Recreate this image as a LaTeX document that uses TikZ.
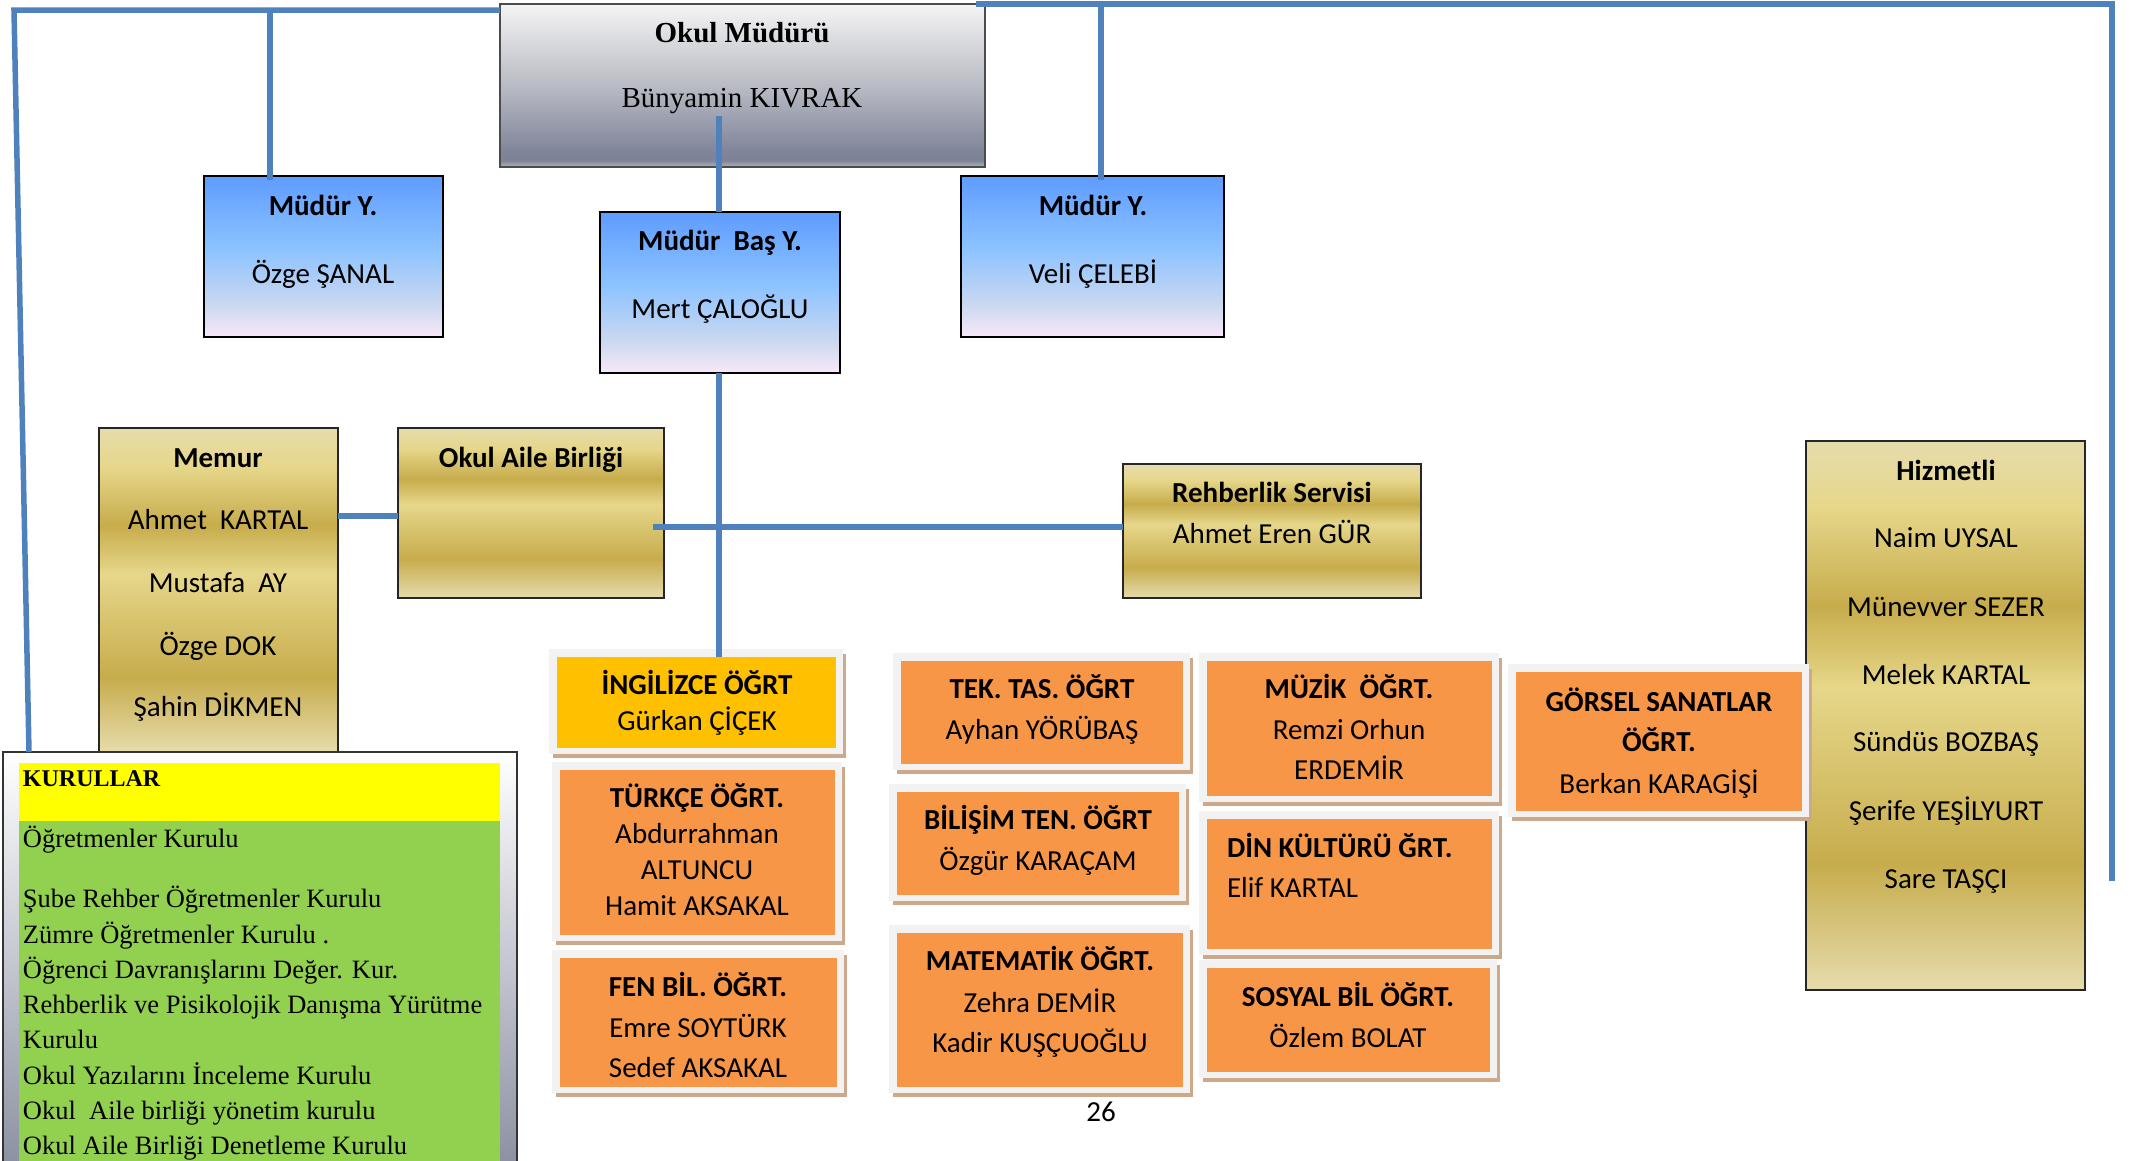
\documentclass[tikz,border=0pt]{standalone}
\usepackage{fontspec}
\setmainfont{Carlito}
\newfontfamily\tnr{Liberation Serif}
\usetikzlibrary{calc}

\definecolor{lineblue}{HTML}{4F81BD}
\definecolor{bB1}{HTML}{5E9CFF}
\definecolor{bB2}{HTML}{8DC3FF}
\definecolor{bB3}{HTML}{CBD8F0}
\definecolor{bB4}{HTML}{F8E8F8}
\definecolor{gA}{HTML}{E6DCAC}
\definecolor{gB}{HTML}{E6D78A}
\definecolor{gC}{HTML}{C7AC4C}
\definecolor{gr1}{HTML}{F4F4F4}
\definecolor{gr2}{HTML}{B9BBC4}
\definecolor{gr3}{HTML}{7E8398}
\definecolor{gr4}{HTML}{B4B6BE}
\definecolor{kw}{HTML}{FFFFFF}
\definecolor{kg}{HTML}{8A8FA0}
\definecolor{torange}{HTML}{F79646}
\definecolor{tyellow}{HTML}{FFC000}
\definecolor{cframe}{HTML}{F2F2F2}
\definecolor{ctan}{HTML}{CDA88A}
\definecolor{kyellow}{HTML}{FFFF00}
\definecolor{kgreen}{HTML}{92D050}

\pgfdeclareverticalshading{bluegrad}{100bp}{color(0bp)=(bB4); color(25bp)=(bB4); color(35bp)=(bB3); color(52bp)=(bB2); color(75bp)=(bB1); color(100bp)=(bB1)}
\pgfdeclareverticalshading{goldgrad}{100bp}{color(0bp)=(gA); color(25bp)=(gA); color(36.5bp)=(gC); color(52.5bp)=(gB); color(60bp)=(gC); color(69bp)=(gB); color(75bp)=(gA); color(100bp)=(gA)}
\pgfdeclareverticalshading{graygrad}{100bp}{color(0bp)=(gr4); color(25bp)=(gr4); color(27bp)=(gr3); color(29bp)=(gr3); color(50bp)=(gr2); color(75bp)=(gr1); color(100bp)=(gr1)}
\pgfdeclareverticalshading{kurgrad}{100bp}{color(0bp)=(kg); color(25bp)=(kg); color(75bp)=(kw); color(100bp)=(kw)}

\tikzset{
  bl/.style={draw=lineblue, line width=5.5pt},
  boxbase/.style={inner sep=0pt, outer sep=0pt, anchor=north west},
  bluebox/.style={boxbase, shade, shading=bluegrad, draw=black, line width=1.2pt},
  goldbox/.style={boxbase, shade, shading=goldgrad, draw=black!85, line width=1.2pt},
  graybox/.style={boxbase, shade, shading=graygrad, draw=black!70, line width=1.5pt},
  lbl/.style={inner sep=0pt, outer sep=0pt, anchor=base, font=\fontsize{29}{35}\selectfont},
  lblb/.style={lbl, font=\fontsize{29}{35}\selectfont\bfseries},
  lbll/.style={lbl, anchor=base west},
  lbllb/.style={lblb, anchor=base west},
  tlbl/.style={lbl, font=\tnr\fontsize{29}{35}\selectfont},
  tlblb/.style={lbl, font=\tnr\fontsize{29}{35}\selectfont\bfseries},
  klbl/.style={inner sep=0pt, outer sep=0pt, anchor=base west, font=\tnr\fontsize{26.5}{32}\selectfont},
  klblb/.style={klbl, font=\tnr\fontsize{24}{30}\selectfont\bfseries},
}

% style, name, x0, y0, x1, y1
\newcommand\mkbox[6]{\node[#1, minimum width=#5-#3, minimum height=#6-#4] (#2) at (#3,#4) {};}
% fill, name, x0, y0, x1, y1 (inner box)
\newcommand\mkteach[6]{%
  \fill[ctan] (#3-4,#4-3) rectangle (#5+10,#6+10);
  \fill[cframe] (#3-8,#4-8) rectangle (#5+7,#6+6);
  \node[boxbase, fill=#1, minimum width=#5-#3, minimum height=#6-#4] (#2) at (#3,#4) {};}

\begin{document}
\begin{tikzpicture}[x=1pt, y=-1pt]
\useasboundingbox (0,0) rectangle (2136,1160);

% --- top management ---
\mkbox{graybox}{om}{500}{4}{985}{167}
\node[tlblb] (omt1) at (742,42) {Okul Müdürü};
\node[tlbl] (omt2) at (742,107) {Bünyamin KIVRAK};

\mkbox{bluebox}{mya}{204}{176}{443}{337}
\node[lblb] (myat1) at (323,215) {Müdür Y.};
\node[lbl] (myat2) at (323,283) {Özge ŞANAL};

\mkbox{bluebox}{basy}{600}{212}{840}{373}
\node[lblb] (basyt1) at (720,250) {Müdür~ Baş Y.};
\node[lbl] (basyt2) at (720,318) {Mert ÇALOĞLU};

\mkbox{bluebox}{myb}{961}{176}{1224}{337}
\node[lblb] (mybt1) at (1093,215) {Müdür Y.};
\node[lbl] (mybt2) at (1093,283) {Veli ÇELEBİ};

% --- gold boxes ---
\mkbox{goldbox}{memur}{99}{428}{338}{752}
\node[lblb] (memt0) at (218,467) {Memur};
\foreach \t/\y [count=\i] in {Ahmet~ KARTAL/529, Mustafa~ AY/592, Özge DOK/655, Şahin DİKMEN/716}
  \node[lbl] (memt\i) at (218,\y) {\t};

\mkbox{goldbox}{oab}{398}{428}{664}{598}
\node[lblb] (oabt) at (531,467) {Okul Aile Birliği};

\mkbox{goldbox}{reh}{1123}{464}{1421}{598}
\node[lblb] (reht1) at (1272,502) {Rehberlik Servisi};
\node[lbl] (reht2) at (1272,543) {Ahmet Eren GÜR};

\mkbox{goldbox}{hiz}{1806}{441}{2085}{990}
\node[lblb] (hizt0) at (1946,480) {Hizmetli};
\foreach \t/\y [count=\i] in {Naim UYSAL/547, Münevver SEZER/616, Melek KARTAL/684, Sündüs BOZBAŞ/751, Şerife YEŞİLYURT/820, Sare TAŞÇI/888}
  \node[lbl] (hizt\i) at (1946,\y) {\t};

% --- Kurullar ---
\node[boxbase, shade, shading=kurgrad, draw=black!80, line width=1.2pt, minimum width=514, minimum height=420] (kur) at (3,752) {};
\mkbox{boxbase, fill=kyellow}{kurhead}{19}{763}{500}{821}
\mkbox{boxbase, fill=kgreen}{kurbody}{19}{821}{500}{1175}
\node[klblb] (kurt) at (23,786) {KURULLAR};
\foreach \t/\y [count=\i] in {Öğretmenler Kurulu/847, Şube Rehber Öğretmenler Kurulu/907, Zümre Öğretmenler Kurulu ./943, Öğrenci Davranışlarını Değer. Kur./978, Rehberlik ve Pisikolojik Danışma Yürütme/1013, Kurulu/1048, Okul Yazılarını İnceleme Kurulu/1084, Okul~ Aile birliği yönetim kurulu/1119, Okul Aile Birliği Denetleme Kurulu/1154}
  \node[klbl] (kurl\i) at (23,\y) {\t};

% --- teachers ---
\mkteach{tyellow}{ing}{557}{657}{836}{748}
\node[lblb] (ingt1) at (697,694) {İNGİLİZCE ÖĞRT};
\node[lbl] (ingt2) at (697,730) {Gürkan ÇİÇEK};

\mkteach{torange}{tur}{560}{770}{835}{935}
\node[lblb] (turt1) at (697,807) {TÜRKÇE ÖĞRT.};
\node[lbl] (turt2) at (697,843) {Abdurrahman};
\node[lbl] (turt3) at (697,879) {ALTUNCU};
\node[lbl] (turt4) at (697,915) {Hamit AKSAKAL};

\mkteach{torange}{fen}{560}{958}{837}{1087}
\node[lblb] (fent1) at (698,996) {FEN BİL. ÖĞRT.};
\node[lbl] (fent2) at (698,1037) {Emre SOYTÜRK};
\node[lbl] (fent3) at (698,1077) {Sedef AKSAKAL};

\mkteach{torange}{tek}{901}{661}{1183}{764}
\node[lblb] (tekt1) at (1042,698) {TEK. TAS. ÖĞRT};
\node[lbl] (tekt2) at (1042,739) {Ayhan YÖRÜBAŞ};

\mkteach{torange}{bil}{897}{792}{1179}{895}
\node[lblb] (bilt1) at (1038,829) {BİLİŞİM TEN. ÖĞRT};
\node[lbl] (bilt2) at (1038,870) {Özgür KARAÇAM};

\mkteach{torange}{mat}{897}{933}{1183}{1087}
\node[lblb] (matt1) at (1040,970) {MATEMATİK ÖĞRT.};
\node[lbl] (matt2) at (1040,1012) {Zehra DEMİR};
\node[lbl] (matt3) at (1040,1052) {Kadir KUŞÇUOĞLU};

\mkteach{torange}{muz}{1207}{661}{1492}{796}
\node[lblb] (muzt1) at (1349,698) {MÜZİK~ ÖĞRT.};
\node[lbl] (muzt2) at (1349,739) {Remzi Orhun};
\node[lbl] (muzt3) at (1349,779) {ERDEMİR};

\mkteach{torange}{din}{1207}{819}{1492}{949}
\node[lbllb] (dint1) at (1227,857) {DİN KÜLTÜRÜ ĞRT.};
\node[lbll] (dint2) at (1227,897) {Elif KARTAL};

\mkteach{torange}{sos}{1207}{968}{1490}{1072}
\node[lblb] (sost1) at (1348,1006) {SOSYAL BİL ÖĞRT.};
\node[lbl] (sost2) at (1348,1047) {Özlem BOLAT};

\mkteach{torange}{gor}{1516}{672}{1802}{811}
\node[lblb] (gort1) at (1659,711) {GÖRSEL SANATLAR};
\node[lblb] (gort2) at (1659,751) {ÖĞRT.};
\node[lbl] (gort3) at (1659,793) {Berkan KARAGİŞİ};

\node[lbl] (pageno) at (1101,1121) {26};

% --- connectors ---
\coordinate (tl) at (14,10);
\coordinate (lb) at ([xshift=26pt]kur.north west);
\draw[bl] (lb) -- (tl) -- (tl -| om.west);
\coordinate (myaT) at ([xshift=66pt,yshift=-4pt]mya.north west);
\draw[bl] (myaT) -- (myaT |- tl);
\coordinate (trs) at ([xshift=-9pt]om.north east);
\coordinate (tr) at (2112,4);
\coordinate (rb) at (2112,881);
\draw[bl] (trs) -- (tr) -- (rb);
\coordinate (mybT) at ([xshift=140pt,yshift=-4pt]myb.north west);
\draw[bl] (mybT) -- (mybT |- tr);
\coordinate (mT) at (719,116);
\draw[bl] (mT) -- (mT |- basy.north);
\draw[bl] (basy.south -| mT) -- (mT |- ing.north);
\coordinate (mo) at (338,516);
\draw[bl] (mo) -- (mo -| oab.west);
\coordinate (orr) at (653,527);
\draw[bl] (orr) -- (orr -| reh.west);
\end{tikzpicture}
\end{document}
